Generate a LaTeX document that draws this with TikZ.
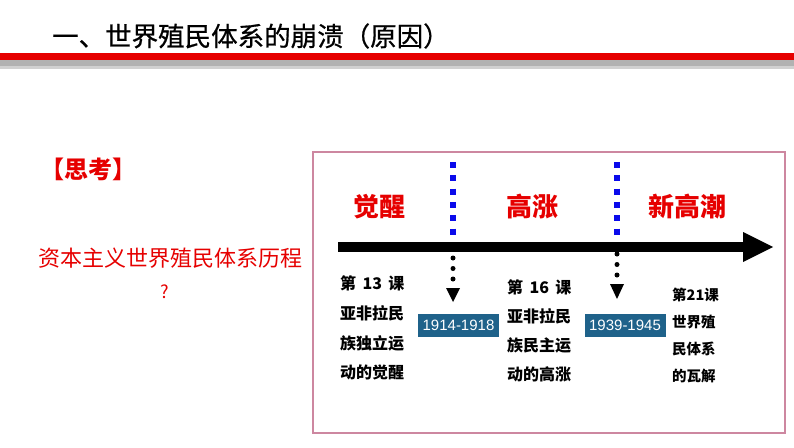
\documentclass[tikz,border=0pt]{standalone}
\usepackage{fontspec}
\setmainfont{Noto Sans CJK SC}
\newfontfamily\titlefont[FakeBold=0.7]{Noto Sans CJK SC}
\newfontfamily\latinsans{Liberation Sans}
\definecolor{hired}{RGB}{230,0,0}
\definecolor{framepink}{RGB}{205,135,160}
\definecolor{datebg}{RGB}{31,98,138}
\definecolor{dotblue}{RGB}{10,10,235}
\tikzset{
  redlabel/.style={text=hired, font=\fontsize{26}{26}\selectfont\bfseries, inner sep=0pt},
  lesson/.style={anchor=west, font=\fontsize{16}{16}\selectfont\bfseries, inner sep=0pt},
  lessonsm/.style={anchor=west, font=\fontsize{14.5}{14.5}\selectfont\bfseries, inner sep=0pt},
  datebox/.style={fill=datebg, text=white, font=\latinsans\fontsize{15}{15}\selectfont, minimum width=81pt, minimum height=23pt, inner sep=0pt},
  bluedots/.style={dotblue, line width=6pt, dash pattern=on 6pt off 7.3pt},
  blackdot/.style={circle, fill=black, inner sep=0pt, minimum size=5pt},
}
\begin{document}
\begin{tikzpicture}[x=1pt,y=-1pt]
\useasboundingbox (0,0) rectangle (794,447);
\fill[white] (0,0) rectangle (794,447);
% title
\node[anchor=west, inner sep=0pt, font=\titlefont\fontsize{26.5}{26.5}\selectfont] (title) at (52,36) {一、世界殖民体系的崩溃（原因）};
\fill[black!30] (0,60) rectangle (794,67);
\fill[black!18] (0,66) rectangle (794,69);
\fill[hired] (0,52.5) rectangle (794,59.5);
% left text
\node[text=hired, font=\fontsize{24}{24}\selectfont\bfseries, inner sep=0pt] (think) at (88,169) {【思考】};
\node[text=hired, font=\fontsize{22}{22}\selectfont, inner sep=0pt] (q) at (170,258) {资本主义世界殖民体系历程};
\node[text=hired, font=\fontsize{18}{18}\selectfont, inner sep=0pt] (qm) at (165,292) {?};
% frame
\draw[framepink, line width=1.3pt] (313,152) rectangle (785,433);
% main arrow
\coordinate (a0) at (338,247);
\coordinate (a1) at (744,247);
\draw[line width=10pt] (a0) -- (a1);
\fill[black] (743,232) -- (773,247) -- (743,262) -- cycle;
% phase labels
\node[redlabel] (p1) at (379,207) {觉醒};
\node[redlabel] (p2) at (532,207) {高涨};
\node[redlabel] (p3) at (687,207) {新高潮};
% blue dotted dividers
\coordinate (b1t) at (453,162);
\coordinate (b1b) at (453,236);
\coordinate (b2t) at (617,162);
\coordinate (b2b) at (617,236);
\draw[bluedots] (b1t) -- (b1b);
\draw[bluedots] (b2t) -- (b2b);
% black dotted arrows
\node[blackdot] (d11) at (453,258) {};
\node[blackdot] (d12) at (453,268.5) {};
\node[blackdot] (d13) at (453,279) {};
\fill[black] (446,288) -- (460,288) -- (453,302) -- cycle;
\node[blackdot] (d21) at (617,254) {};
\node[blackdot] (d22) at (617,264.5) {};
\node[blackdot] (d23) at (617,275) {};
\fill[black] (610,284) -- (624,284) -- (617,299) -- cycle;
% date boxes
\node[datebox] (t1) at (458.5,325.5) {1914-1918};
\node[datebox] (t2) at (625,325.5) {1939-1945};
% lesson texts
\node[lesson] (l11) at (340,283) {第\hspace{0.4em}13\hspace{0.4em}课};
\node[lesson] (l12) at (340,313) {亚非拉民};
\node[lesson] (l13) at (340,343) {族独立运};
\node[lesson] (l14) at (340,372) {动的觉醒};
\node[lesson] (l21) at (507,287) {第\hspace{0.4em}16\hspace{0.4em}课};
\node[lesson] (l22) at (507,316) {亚非拉民};
\node[lesson] (l23) at (507,345) {族民主运};
\node[lesson] (l24) at (507,374) {动的高涨};
\node[lessonsm] (l31) at (672,295) {第21课};
\node[lessonsm] (l32) at (672,322) {世界殖};
\node[lessonsm] (l33) at (672,349) {民体系};
\node[lessonsm] (l34) at (672,376) {的瓦解};
\end{tikzpicture}
\end{document}
